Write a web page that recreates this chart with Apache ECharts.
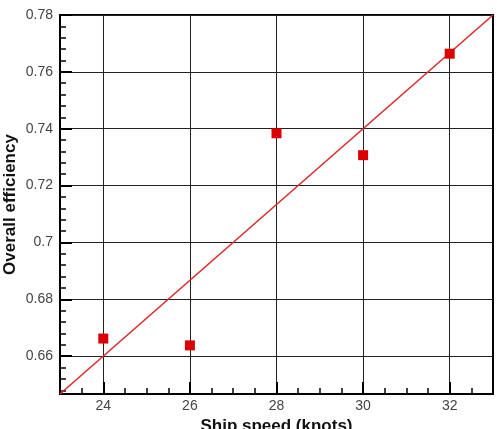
<!DOCTYPE html>
<html>
<head>
<meta charset="utf-8">
<script src="https://cdn.jsdelivr.net/npm/echarts@6/dist/echarts.min.js"></script>
<style>
  html, body { margin: 0; padding: 0; background: #fff; }
  #main { width: 497px; height: 429px; }
</style>
</head>
<body>
<div id="main"></div>
<script>
var speeds = [24, 26, 28, 30, 32];
var efficiency = [0.6662, 0.6638, 0.7384, 0.7307, 0.7664];
var fitLine = [[23, 0.6467], [33, 0.78]];

var xMajor = [24, 26, 28, 30, 32];
var xMinor = [23.5, 24.5, 25, 25.5, 26.5, 27, 27.5, 28.5, 29, 29.5, 30.5, 31, 31.5, 32.5];
var yMajor = [0.66, 0.68, 0.7, 0.72, 0.74, 0.76, 0.78];
var yMinor = [0.648, 0.652, 0.656, 0.664, 0.668, 0.672, 0.676, 0.684, 0.688, 0.692, 0.696,
  0.704, 0.708, 0.712, 0.716, 0.724, 0.728, 0.732, 0.736, 0.744, 0.748, 0.752, 0.756,
  0.764, 0.768, 0.772, 0.776];

var chartDom = document.getElementById('main');
var myChart = echarts.init(chartDom);
var option;

var labelFont = {
    fontFamily: 'Liberation Sans, Arial, sans-serif',
    fontSize: 14,
    color: '#444'
};
var nameFont = {
    fontFamily: 'Liberation Sans, Arial, sans-serif',
    fontSize: 17,
    fontWeight: 'bold',
    color: '#111'
};

option = {
    animation: false,
    grid: {
        left: 60,
        right: 4,
        top: 15,
        bottom: 35,
        containLabel: false,
        outerBoundsMode: 'none',
        show: true,
        borderColor: '#000',
        borderWidth: 2
    },
    xAxis: [
        {
            type: 'value',
            min: 23,
            max: 33,
            name: 'Ship speed (knots)',
            nameLocation: 'middle',
            nameGap: 24,
            nameMoveOverlap: false,
            nameTextStyle: nameFont,
            axisLine: { lineStyle: { color: '#000', width: 2 } },
            axisTick: {
                inside: true,
                length: 12,
                customValues: xMajor,
                lineStyle: { color: '#000', width: 2 }
            },
            axisLabel: Object.assign({ customValues: xMajor, margin: 5 }, labelFont),
            splitLine: { show: true, lineStyle: { color: '#222', width: 1 } }
        },
        {
            type: 'value',
            min: 23,
            max: 33,
            position: 'bottom',
            axisLine: { show: false },
            axisTick: {
                inside: true,
                length: 6,
                customValues: xMinor,
                lineStyle: { color: '#000', width: 1.5 }
            },
            axisLabel: { show: false },
            splitLine: { show: false }
        }
    ],
    yAxis: [
        {
            type: 'value',
            min: 0.6467,
            max: 0.78,
            name: 'Overall efficiency',
            nameLocation: 'middle',
            nameGap: 41,
            nameMoveOverlap: false,
            nameTextStyle: nameFont,
            axisLine: { show: true, lineStyle: { color: '#000', width: 2 } },
            axisTick: {
                show: true,
                inside: true,
                length: 12,
                customValues: yMajor,
                lineStyle: { color: '#000', width: 2 }
            },
            axisLabel: Object.assign({ customValues: yMajor, margin: 7 }, labelFont),
            splitLine: { show: true, lineStyle: { color: '#222', width: 1 } }
        },
        {
            type: 'value',
            min: 0.6467,
            max: 0.78,
            position: 'left',
            axisLine: { show: false },
            axisTick: {
                show: true,
                inside: true,
                length: 6,
                customValues: yMinor,
                lineStyle: { color: '#000', width: 1.5 }
            },
            axisLabel: { show: false },
            splitLine: { show: false }
        }
    ],
    series: [
        {
            type: 'line',
            data: fitLine,
            symbol: 'none',
            z: 2,
            lineStyle: { color: '#dd2a2a', width: 1.6 }
        },
        {
            type: 'scatter',
            data: speeds.map(function (s, i) { return [s, efficiency[i]]; }),
            symbol: 'rect',
            symbolSize: 10,
            z: 3,
            itemStyle: { color: '#dd0000', opacity: 1 }
        }
    ]
};

option && myChart.setOption(option);
</script>
</body>
</html>
